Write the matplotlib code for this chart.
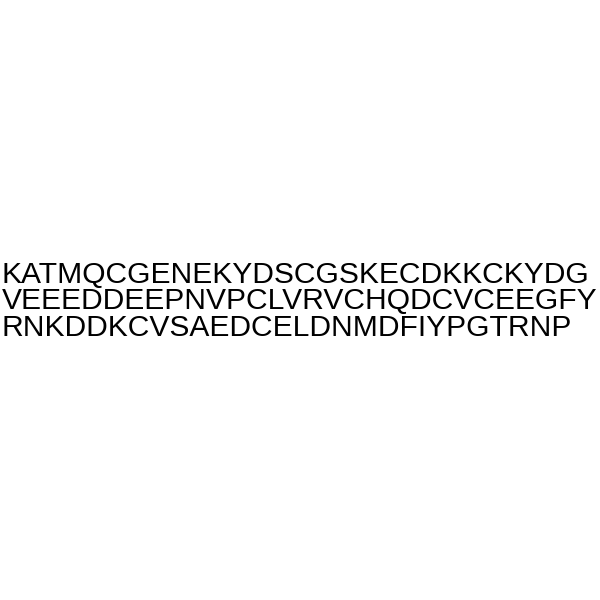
import matplotlib
matplotlib.use("Agg")
import matplotlib.pyplot as plt

# sequence lines as shown in the picture
seq_lines = [
    "KATMQCGENEKYDSCGSKECDKKCKYDG",
    "VEEEDDEEPNVPCLVRVCHQDCVCEEGFY",
    "RNKDDKCVSAEDCELDNMDFIYPGTRNP",
]
baselines = [283, 309.5, 336]  # pixel rows from top

fig = plt.figure(figsize=(6, 6), dpi=100)
fig.patch.set_facecolor("white")

for line, y in zip(seq_lines, baselines):
    fig.text(2 / 600, 1 - y / 600, line, fontsize=21.6,
             family="Liberation Sans", color="black",
             ha="left", va="baseline")

fig.savefig("out.png", dpi=100, facecolor="white")
